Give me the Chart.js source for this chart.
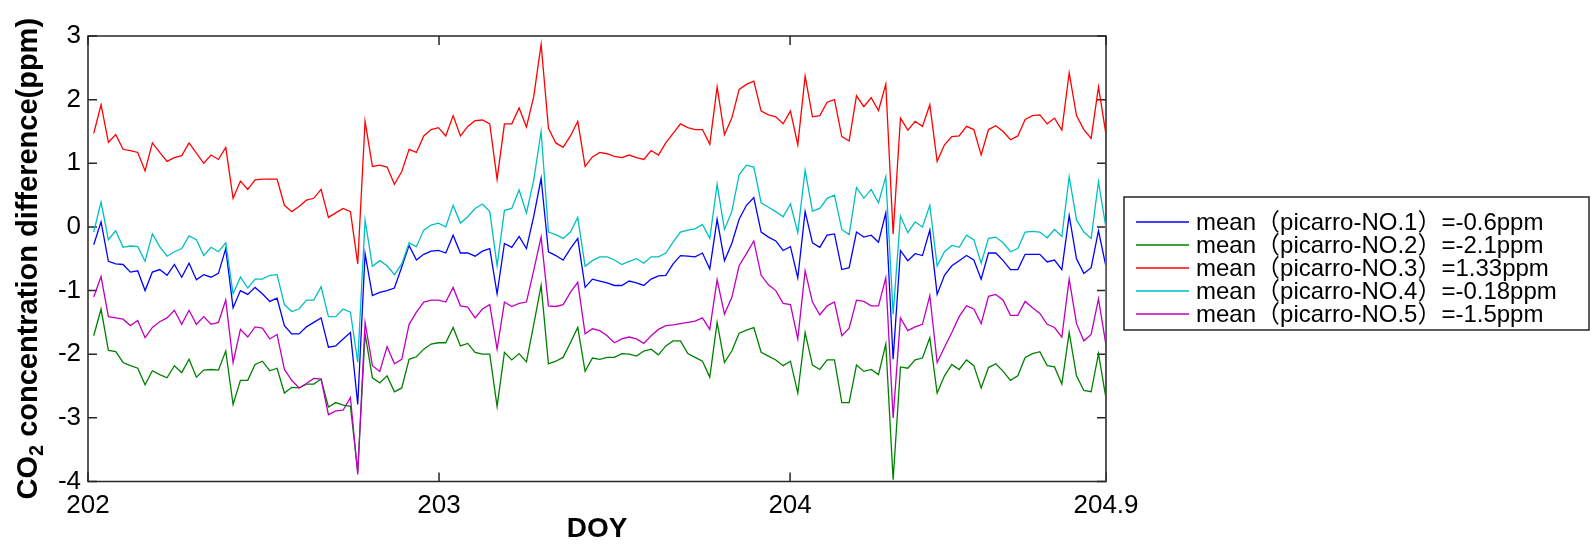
<!DOCTYPE html>
<html>
<head>
<meta charset="utf-8">
<title>CO2 concentration difference</title>
<script src="https://cdn.jsdelivr.net/npm/chart.js@4.4.1/dist/chart.umd.min.js"></script>
<style>
  html, body { margin: 0; padding: 0; background: #ffffff; }
  canvas { display: block; }
</style>
</head>
<body>
<canvas id="co2" width="1591" height="544"></canvas>
<script>
// Half-hourly sampling grid (day of year), plus the closing sample at the window edge
const DOY_START = 202.0163;
const DOY_STEP = 0.020893;
const N_SAMPLES = 139;
const DOY = Array.from({ length: N_SAMPLES }, (_, i) => +(DOY_START + i * DOY_STEP).toFixed(4));
DOY.push(204.9);

const X_TICKS = [202, 203, 204, 204.9];
const Y_MIN = -4, Y_MAX = 3;

const LABELS = [
  'mean（picarro-NO.1）=-0.6ppm',
  'mean（picarro-NO.2）=-2.1ppm',
  'mean（picarro-NO.3）=1.33ppm',
  'mean（picarro-NO.4）=-0.18ppm',
  'mean（picarro-NO.5）=-1.5ppm'
];
const COLORS = ['#0000ff', '#008000', '#ff0000', '#00bfbf', '#bf00bf'];

// CO2 difference (ppm) for each analyser
const NO1 = [
  -0.28, 0.08, -0.54, -0.58, -0.59, -0.71, -0.69, -1.0, -0.71, -0.67,
  -0.76, -0.59, -0.79, -0.57, -0.83, -0.75, -0.79, -0.73, -0.34, -1.27,
  -1.0, -1.06, -0.95, -1.05, -1.17, -1.12, -1.55, -1.68, -1.68, -1.57,
  -1.5, -1.43, -1.89, -1.87, -1.76,
  -1.66, -2.79, -0.42, -1.08, -1.03, -1.0, -0.96, -0.63, -0.29, -0.52,
  -0.43, -0.38, -0.37, -0.41, -0.13, -0.41, -0.41, -0.46, -0.38, -0.34,
  -1.05, -0.26, -0.32, -0.15, -0.34, 0.17, 0.76, -0.39, -0.45, -0.52,
  -0.34, -0.18, -0.95, -0.82,
  -0.85, -0.88, -0.92, -0.92, -0.85, -0.88, -0.92, -0.82, -0.77, -0.76,
  -0.58, -0.45, -0.46, -0.47, -0.41, -0.66, 0.12, -0.53, -0.26, 0.12,
  0.34, 0.46, -0.08, -0.16, -0.22, -0.37, -0.31, -0.8, 0.24, -0.25,
  -0.32, -0.13,
  -0.11, -0.67, -0.64, -0.08, -0.16, -0.13, -0.24, 0.22, -2.08, -0.37,
  -0.53, -0.42, -0.45, -0.05, -1.06, -0.76, -0.61, -0.53, -0.45, -0.52,
  -0.82, -0.41, -0.41, -0.53, -0.67, -0.67, -0.43, -0.43, -0.43, -0.55,
  -0.52, -0.67, 0.18, -0.5, -0.73, -0.64, -0.06, -0.61
];
const NO2 = [
  -1.71, -1.29, -1.94, -1.96, -2.13, -2.18, -2.22, -2.48, -2.26, -2.32,
  -2.37, -2.18, -2.29, -2.08, -2.36, -2.25, -2.24, -2.25, -1.95, -2.79,
  -2.41, -2.41, -2.16, -2.11, -2.26, -2.22, -2.61, -2.52, -2.53, -2.47,
  -2.47, -2.39, -2.83, -2.76, -2.8,
  -2.82, -3.84, -1.68, -2.37, -2.45, -2.34, -2.59, -2.53, -2.08, -2.04,
  -1.92, -1.84, -1.82, -1.82, -1.58, -1.87, -1.83, -1.97, -2.0, -2.0,
  -2.82, -1.97, -2.09, -1.99, -2.12, -1.53, -0.92, -2.15, -2.11, -2.05,
  -1.82, -1.58, -2.27, -2.06,
  -2.08, -2.05, -2.05, -1.99, -2.0, -2.03, -1.95, -1.92, -2.01, -1.87,
  -1.79, -1.79, -1.99, -2.05, -2.11, -2.36, -1.5, -2.13, -1.95, -1.67,
  -1.62, -1.58, -1.97, -2.03, -2.09, -2.18, -2.11, -2.61, -1.66, -2.17,
  -2.24, -2.09,
  -2.09, -2.76, -2.76, -2.17, -2.27, -2.24, -2.32, -1.84, -3.97, -2.2,
  -2.22, -2.09, -2.06, -1.74, -2.61, -2.34, -2.16, -2.24, -2.09, -2.18,
  -2.53, -2.21, -2.15, -2.27, -2.41, -2.34, -2.05, -1.99, -1.96, -2.18,
  -2.2, -2.47, -1.66, -2.34, -2.57, -2.59, -1.99, -2.68
];
const NO3 = [
  1.47, 1.92, 1.33, 1.45, 1.22, 1.2, 1.17, 0.88, 1.32, 1.17,
  1.03, 1.09, 1.12, 1.32, 1.16, 1.0, 1.13, 1.06, 1.25, 0.45,
  0.72, 0.59, 0.74, 0.75, 0.75, 0.75, 0.34, 0.24, 0.32, 0.42,
  0.45, 0.59, 0.15, 0.22, 0.29,
  0.24, -0.58, 1.66, 0.95, 0.97, 0.94, 0.67, 0.87, 1.22, 1.17,
  1.43, 1.53, 1.56, 1.43, 1.75, 1.43, 1.58, 1.67, 1.68, 1.62,
  0.75, 1.62, 1.62, 1.87, 1.57, 2.05, 2.87, 1.55, 1.32, 1.25,
  1.43, 1.66, 0.95, 1.1,
  1.17, 1.15, 1.11, 1.09, 1.13, 1.09, 1.06, 1.2, 1.13, 1.32,
  1.47, 1.62, 1.56, 1.53, 1.53, 1.3, 2.2, 1.45, 1.71, 2.16,
  2.24, 2.29, 1.82, 1.76, 1.73, 1.62, 1.82, 1.29, 2.37, 1.73,
  1.75, 1.96,
  2.0, 1.42, 1.35, 2.06, 1.89, 2.03, 1.83, 2.24, -0.11, 1.71,
  1.52, 1.66, 1.58, 1.92, 1.03, 1.29, 1.42, 1.43, 1.58, 1.53,
  1.13, 1.53, 1.59, 1.5, 1.37, 1.43, 1.69, 1.75, 1.76, 1.62,
  1.71, 1.52, 2.42, 1.75, 1.53, 1.39, 2.2, 1.47,
  0.0
];
const NO4 = [
  -0.08, 0.39, -0.2, -0.06, -0.32, -0.3, -0.31, -0.54, -0.11, -0.31,
  -0.46, -0.39, -0.34, -0.14, -0.2, -0.45, -0.32, -0.39, -0.25, -1.05,
  -0.79, -0.96, -0.82, -0.82, -0.76, -0.75, -1.22, -1.33, -1.29, -1.15,
  -1.15, -0.94, -1.41, -1.41, -1.29,
  -1.34, -2.13, 0.11, -0.62, -0.53, -0.61, -0.75, -0.58, -0.25, -0.31,
  -0.05, 0.03, 0.06, 0.0, 0.34, 0.06, 0.16, 0.29, 0.36, 0.24,
  -0.61, 0.26, 0.29, 0.58, 0.22, 0.74, 1.5, -0.08, -0.12, -0.18,
  -0.08, 0.15, -0.62, -0.53,
  -0.47, -0.47, -0.52, -0.59, -0.54, -0.5, -0.57, -0.47, -0.47, -0.41,
  -0.24, -0.08, -0.05, -0.03, 0.04, -0.18, 0.67, -0.04, 0.24, 0.82,
  0.97, 0.94, 0.38, 0.31, 0.24, 0.16, 0.36, -0.09, 0.89, 0.25,
  0.29, 0.45,
  0.5, -0.04, -0.12, 0.62, 0.45, 0.59, 0.38, 0.79, -1.37, 0.17,
  -0.09, 0.08, 0.0, 0.34, -0.61, -0.39, -0.29, -0.32, -0.13, -0.2,
  -0.57, -0.18, -0.16, -0.25, -0.39, -0.34, -0.08, -0.07, -0.08, -0.17,
  -0.04, -0.15, 0.79, 0.11, -0.08, -0.18, 0.71, 0.0,
  -2.0
];
const NO5 = [
  -1.1, -0.78, -1.41, -1.43, -1.45, -1.55, -1.47, -1.74, -1.58, -1.49,
  -1.43, -1.31, -1.53, -1.31, -1.53, -1.41, -1.53, -1.5, -1.15, -2.13,
  -1.61, -1.73, -1.57, -1.59, -1.76, -1.69, -2.24, -2.41, -2.53, -2.46,
  -2.38, -2.39, -2.95, -2.89, -2.88,
  -2.68, -3.89, -1.5, -2.18, -2.27, -1.88, -2.15, -2.08, -1.53, -1.34,
  -1.18, -1.15, -1.15, -1.18, -0.95, -1.24, -1.26, -1.43, -1.29, -1.22,
  -1.92, -1.18, -1.25, -1.2, -1.18, -0.68, -0.16, -1.24, -1.25, -1.22,
  -1.03, -0.87, -1.68, -1.6,
  -1.63, -1.71, -1.82, -1.76, -1.73, -1.76, -1.83, -1.71, -1.61, -1.55,
  -1.54, -1.52, -1.5, -1.48, -1.43, -1.61, -0.83, -1.37, -1.11, -0.61,
  -0.42, -0.22, -0.76, -0.91, -1.0, -1.2, -1.22, -1.76, -0.69, -1.18,
  -1.38, -1.24,
  -1.18, -1.71, -1.59, -1.15, -1.17, -1.24, -1.24, -0.8, -3.0, -1.43,
  -1.63, -1.57, -1.53, -1.08, -2.13, -1.89, -1.66, -1.41, -1.24, -1.29,
  -1.52, -1.09, -1.06, -1.15, -1.39, -1.39, -1.17, -1.27, -1.36, -1.53,
  -1.58, -1.73, -0.82, -1.52, -1.79, -1.69, -1.13, -1.84,
  -4.3
];
const SERIES = [NO1, NO2, NO3, NO4, NO5];

const FONT = "'Liberation Sans', Arial, 'Noto Sans CJK SC', sans-serif";
const FRAME_COLOR = '#262626';
const TICK_LEN = 9;

// Axes box with inward ticks, y-axis title with subscript, and boxed legend
const axesDecor = {
  id: 'axesDecor',
  beforeDatasetsDraw(chart) {
    const { ctx, chartArea: a, scales: { x, y } } = chart;
    ctx.save();
    ctx.strokeStyle = FRAME_COLOR;
    ctx.lineWidth = 1.5;
    ctx.strokeRect(a.left, a.top, a.right - a.left, a.bottom - a.top);
    ctx.beginPath();
    y.ticks.forEach(t => {
      const py = y.getPixelForValue(t.value);
      ctx.moveTo(a.left, py); ctx.lineTo(a.left + TICK_LEN, py);
      ctx.moveTo(a.right, py); ctx.lineTo(a.right - TICK_LEN, py);
    });
    x.ticks.forEach(t => {
      const px = x.getPixelForValue(t.value);
      ctx.moveTo(px, a.bottom); ctx.lineTo(px, a.bottom - TICK_LEN);
      ctx.moveTo(px, a.top); ctx.lineTo(px, a.top + TICK_LEN);
    });
    ctx.stroke();
    ctx.restore();
  },
  afterDraw(chart) {
    const { ctx, chartArea: a } = chart;

    // y-axis title: CO2 with a subscript 2
    ctx.save();
    ctx.translate(37, (a.top + a.bottom) / 2);
    ctx.rotate(-Math.PI / 2);
    ctx.fillStyle = '#000';
    ctx.textBaseline = 'alphabetic';
    const big = 'bold 29px ' + FONT, small = 'bold 20px ' + FONT;
    const rest = ' concentration difference(ppm)';
    ctx.font = big; const w1 = ctx.measureText('CO').width; const w3 = ctx.measureText(rest).width;
    ctx.font = small; const w2 = ctx.measureText('2').width;
    let x0 = -(w1 + w2 + w3) / 2;
    ctx.font = big; ctx.fillText('CO', x0, 0);
    ctx.font = small; ctx.fillText('2', x0 + w1, 6);
    ctx.font = big; ctx.fillText(rest, x0 + w1 + w2, 0);
    ctx.restore();

    // legend
    const box = { left: 1124, top: 197, right: 1589, bottom: 330 };
    ctx.save();
    ctx.fillStyle = '#fff';
    ctx.fillRect(box.left, box.top, box.right - box.left, box.bottom - box.top);
    ctx.strokeStyle = FRAME_COLOR;
    ctx.lineWidth = 1.5;
    ctx.strokeRect(box.left, box.top, box.right - box.left, box.bottom - box.top);
    ctx.font = '24px ' + FONT;
    ctx.textBaseline = 'middle';
    ctx.textAlign = 'left';
    chart.data.datasets.forEach((ds, i) => {
      const cy = 222 + i * 23;
      ctx.strokeStyle = ds.borderColor;
      ctx.lineWidth = 1.3;
      ctx.beginPath();
      ctx.moveTo(1136, cy); ctx.lineTo(1189, cy);
      ctx.stroke();
      ctx.fillStyle = '#000';
      ctx.fillText(ds.label, 1196, cy + 1);
    });
    ctx.restore();
  }
};

new Chart(document.getElementById('co2').getContext('2d'), {
  type: 'line',
  data: {
    datasets: SERIES.map((vals, i) => ({
      label: LABELS[i],
      data: vals.map((v, k) => ({ x: DOY[k], y: v })),
      borderColor: COLORS[i],
      backgroundColor: COLORS[i],
      borderWidth: 1.3,
      pointRadius: 0,
      tension: 0,
      fill: false,
      order: SERIES.length - 1 - i
    }))
  },
  options: {
    responsive: false,
    animation: false,
    devicePixelRatio: 1,
    layout: { padding: { left: 0, top: 36, right: 485, bottom: 0 } },
    plugins: { legend: { display: false }, tooltip: { enabled: false } },
    scales: {
      x: {
        type: 'linear',
        min: 202,
        max: 204.9,
        afterBuildTicks: s => { s.ticks = X_TICKS.map(v => ({ value: v })); },
        afterFit: s => { s.height = 62.5; },
        grid: { display: false, drawTicks: false },
        border: { display: false },
        ticks: {
          autoSkip: false, maxRotation: 0, padding: 9, color: '#000',
          font: { family: FONT, size: 26 },
          callback: v => String(v)
        },
        title: {
          display: true, text: 'DOY', color: '#000',
          font: { family: FONT, size: 28, weight: 'bold', lineHeight: 1 },
          padding: { top: 0, bottom: 0.5 }
        }
      },
      y: {
        min: Y_MIN,
        max: Y_MAX,
        afterFit: s => { s.width = 88; },
        grid: { display: false, drawTicks: false },
        border: { display: false },
        ticks: {
          stepSize: 1, padding: 7, color: '#000',
          font: { family: FONT, size: 26 }
        }
      }
    }
  },
  plugins: [axesDecor]
});
</script>
</body>
</html>
